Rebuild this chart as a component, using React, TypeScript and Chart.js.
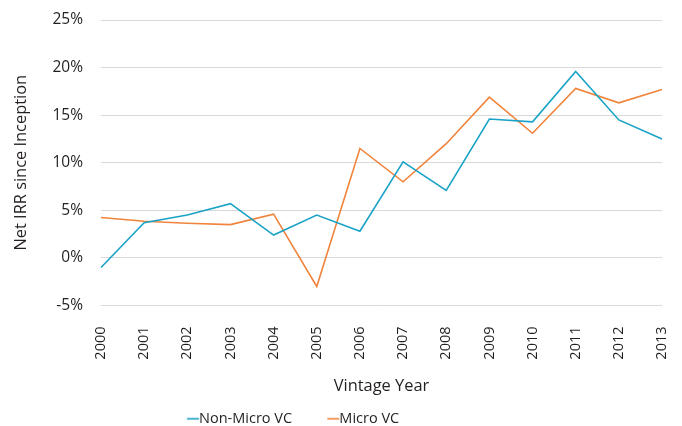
import React, { useEffect, useRef } from "react";
import { Chart, registerables } from "chart.js";

Chart.register(...registerables);

const years = ["2000","2001","2002","2003","2004","2005","2006","2007","2008","2009","2010","2011","2012","2013"];
const nonMicroVC = [-1.0, 3.7, 4.5, 5.7, 2.4, 4.5, 2.8, 10.1, 7.1, 14.6, 14.3, 19.6, 14.5, 12.5];
const microVC = [4.25, 3.85, 3.65, 3.5, 4.6, -3.0, 11.5, 8.0, 12.0, 16.9, 13.1, 17.8, 16.3, 17.7];
const yTicks = [-5, 0, 5, 10, 15, 20, 25];

const FONT = "'Open Sans', sans-serif";
const BLUE = "#1aa3c6";
const ORANGE = "#f0843c";
const TEXT = "#231f20";

const LEG_FS = 14.5;
const BOX_W = 38;

function legendMark(color: string) {
  const c = document.createElement("canvas");
  const W = 64;
  c.width = W;
  c.height = 4;
  const ctx = c.getContext("2d")!;
  ctx.strokeStyle = color;
  ctx.lineWidth = 1.6;
  ctx.beginPath();
  const textStart = W / 2 + BOX_W / 2 + LEG_FS / 2;
  ctx.moveTo(textStart - 12, 2);
  ctx.lineTo(textStart, 2);
  ctx.stroke();
  return c;
}

const legendShift = {
  id: "legendShift",
  afterLayout(chart: any) {
    if (chart.legend) {
      chart.legend.left -= 60;
      chart.legend.right -= 60;
      chart.legend.top += 10;
      chart.legend.bottom += 10;
    }
  },
};

export default function App() {
  const ref = useRef<HTMLCanvasElement>(null);
  useEffect(() => {
    if (!ref.current) return;
    const chart = new Chart(ref.current, {
      type: "line",
      data: {
        labels: years,
        datasets: [
          { label: "Non-Micro VC", data: nonMicroVC, borderColor: BLUE, backgroundColor: BLUE, borderWidth: 1.6, pointRadius: 0, pointStyle: legendMark(BLUE) as any, tension: 0 },
          { label: "Micro VC", data: microVC, borderColor: ORANGE, backgroundColor: ORANGE, borderWidth: 1.6, pointRadius: 0, pointStyle: legendMark(ORANGE) as any, tension: 0 },
        ],
      },
      plugins: [legendShift],
      options: {
        animation: false,
        responsive: false,
        layout: { autoPadding: false, padding: { left: 11, right: 20, top: 20, bottom: 0 } },
        plugins: {
          tooltip: { enabled: false },
          legend: {
            position: "bottom",
            labels: {
              usePointStyle: true,
              pointStyleWidth: BOX_W,
              boxHeight: 10,
              color: TEXT,
              font: { family: FONT, size: LEG_FS },
              padding: 2,
            },
          },
        },
        scales: {
          x: {
            offset: false,
            grid: { display: false },
            border: { display: false },
            afterFit: (axis: any) => { axis.height = 94; axis.paddingLeft = 0; axis.paddingRight = 0; },
            ticks: { color: TEXT, font: { family: FONT, size: 14.5 }, maxRotation: 90, minRotation: 90, padding: 13 },
            title: { display: true, text: "Vintage Year", color: TEXT, font: { family: FONT, size: 16.4 }, padding: { top: 10, bottom: 3 } },
          },
          y: {
            min: -5,
            max: 25,
            afterBuildTicks: (axis: any) => { axis.ticks = yTicks.map((v) => ({ value: v })); },
            afterFit: (axis: any) => { axis.width = 90; axis.paddingTop = 0; axis.paddingBottom = 0; },
            grid: { color: "#d9d9d9", lineWidth: 1, drawTicks: false },
            border: { display: false },
            ticks: { color: TEXT, font: { family: FONT, size: 15.5 }, padding: 18, callback: (v: any) => v + "%" },
            title: { display: true, text: "Net IRR since Inception", color: TEXT, font: { family: FONT, size: 16.4 }, padding: { top: 0, bottom: 4 } },
          },
        },
      },
    });
    return () => chart.destroy();
  }, []);
  return (
    <div style={{ position: "absolute", left: 0, top: 0, width: 682, height: 426, background: "#fff" }}>
      <canvas ref={ref} width={682} height={426} />
    </div>
  );
}
